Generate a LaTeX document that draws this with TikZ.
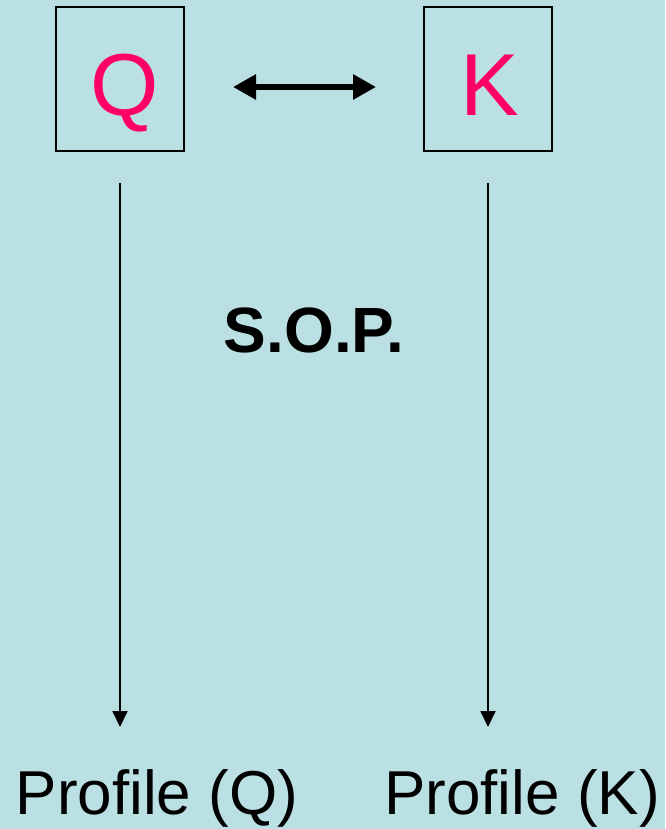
\documentclass[tikz,border=0pt]{standalone}
\usepackage{fontspec}
\setmainfont{Liberation Sans}
\usetikzlibrary{arrows.meta}
\definecolor{bgcol}{RGB}{186,224,227}
\definecolor{letter}{RGB}{255,0,102}
\begin{document}
\begin{tikzpicture}[x=1pt,y=-1pt,
  box/.style={draw=black,line width=1.5pt,minimum width=128pt,minimum height=144pt,inner sep=0pt},
  bigletter/.style={text=letter,font=\fontsize{88}{88}\selectfont,anchor=base,inner sep=0pt},
  caption/.style={font=\fontsize{62}{62}\selectfont,anchor=base,inner sep=0pt},
  flow/.style={line width=1.8pt,-{Triangle[width=15pt,length=16pt]}},
  link/.style={line width=6.5pt,{Triangle[width=24pt,length=23pt]}-{Triangle[width=24pt,length=23pt]}}]
  \useasboundingbox[fill=bgcol] (0,0) rectangle (665,829);
  % the two boxes and their letters
  \node[box] (qbox) at (120,79) {};
  \node[box] (kbox) at (488,79) {};
  \node[bigletter] (qtxt) at (125,116) {Q};
  \node[bigletter] (ktxt) at (490,116) {K};
  % link between the boxes
  \coordinate (la) at (233,87);
  \coordinate (lb) at (376,87);
  \draw[link] (la) -- (lb);
  % centre label
  \node[font=\fontsize{64}{64}\selectfont\bfseries,anchor=base,inner sep=0pt] (sop) at (314,352) {S.O.P.};
  % bottom captions
  \node[caption] (qprof) at (157,814) {Profile (Q)};
  \node[caption] (kprof) at (522,814) {Profile (K)};
  % downward arrows
  \coordinate (qs) at (120,183);
  \coordinate (qe) at (120,727);
  \coordinate (ks) at (488,183);
  \coordinate (ke) at (488,727);
  \draw[flow] (qs) -- (qe);
  \draw[flow] (ks) -- (ke);
\end{tikzpicture}
\end{document}
